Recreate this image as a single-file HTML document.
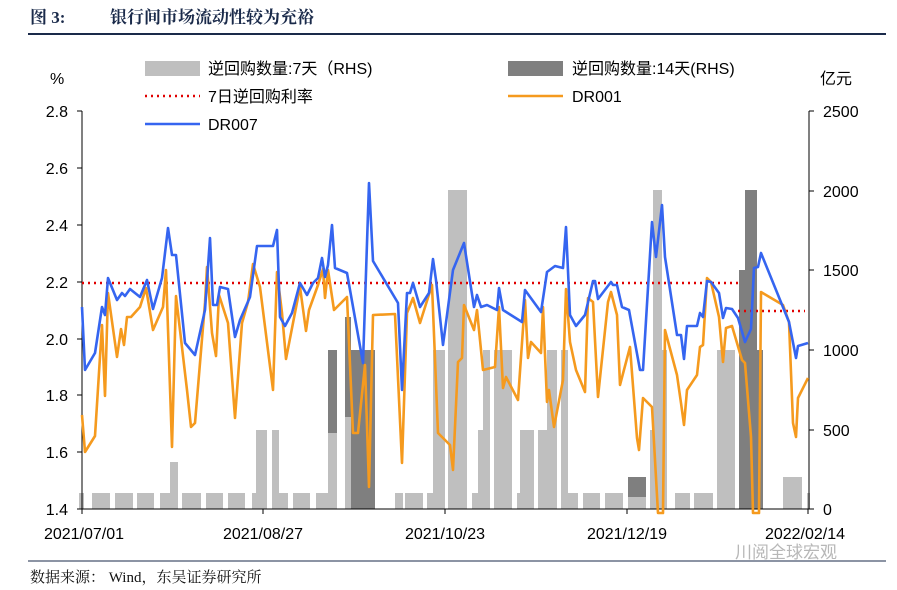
<!DOCTYPE html>
<html><head><meta charset="utf-8"><style>
body{margin:0;background:#fff;width:897px;height:590px;overflow:hidden}
svg{display:block}
text{font-family:"Liberation Sans","Noto Sans CJK SC",sans-serif}
.s{font-family:"Liberation Serif","Noto Serif CJK SC",serif}
</style></head><body>
<svg width="897" height="590" viewBox="0 0 897 590" xmlns="http://www.w3.org/2000/svg">
<text x="30" y="23" class="s" font-size="17" font-weight="bold" fill="#1a2a4a">图 3:</text>
<text x="110" y="23" class="s" font-size="17" font-weight="bold" fill="#1a2a4a">银行间市场流动性较为充裕</text>
<line x1="28" y1="34" x2="886" y2="34" stroke="#1a2a4a" stroke-width="2"/>
<line x1="28" y1="561" x2="886" y2="561" stroke="#1a2a4a" stroke-width="1"/>
<text x="30" y="582" class="s" font-size="15" fill="#111">数据来源： Wind，东吴证券研究所</text>

<g fill="#bfbfbf">
<rect x="79" y="493" width="5" height="16"/><rect x="92" y="493" width="18" height="16"/><rect x="115" y="493" width="18" height="16"/>
<rect x="137" y="493" width="17" height="16"/><rect x="160" y="493" width="10" height="16"/><rect x="170" y="462" width="8" height="47"/>
<rect x="182" y="493" width="19" height="16"/><rect x="206" y="493" width="17" height="16"/><rect x="228" y="493" width="17" height="16"/>
<rect x="252" y="493" width="5" height="16"/><rect x="256" y="430" width="11" height="79"/><rect x="272" y="430" width="7" height="79"/>
<rect x="279" y="493" width="9" height="16"/><rect x="293" y="493" width="17" height="16"/><rect x="316" y="493" width="12" height="16"/>
<rect x="328" y="433" width="9" height="76"/><rect x="345" y="417" width="6" height="92"/>
<rect x="395" y="493" width="8" height="16"/><rect x="405" y="493" width="18" height="16"/><rect x="427" y="493" width="6" height="16"/>
<rect x="433" y="350" width="12" height="159"/><rect x="448" y="190" width="19" height="319"/><rect x="472" y="493" width="6" height="16"/>
<rect x="478" y="430" width="5" height="79"/><rect x="483" y="350" width="7" height="159"/><rect x="494" y="350" width="18" height="159"/>
<rect x="517" y="493" width="3" height="16"/><rect x="520" y="430" width="14" height="79"/><rect x="538" y="430" width="9" height="79"/>
<rect x="547" y="350" width="10" height="159"/><rect x="561" y="350" width="7" height="159"/><rect x="568" y="493" width="10" height="16"/>
<rect x="583" y="493" width="17" height="16"/><rect x="605" y="493" width="18" height="16"/><rect x="628" y="497" width="18" height="12"/>
<rect x="650" y="430" width="3" height="79"/><rect x="653" y="190" width="9" height="319"/><rect x="662" y="350" width="5" height="159"/>
<rect x="675" y="493" width="15" height="16"/><rect x="694" y="493" width="19" height="16"/><rect x="717" y="350" width="18" height="159"/>
<rect x="783" y="477" width="19" height="32"/><rect x="807" y="493" width="3" height="16"/>
</g>
<g fill="#7f7f7f">
<rect x="328" y="350" width="9" height="83"/><rect x="345" y="317" width="6" height="100"/><rect x="351" y="350" width="6" height="159"/>
<rect x="357" y="350" width="18" height="159"/><rect x="628" y="477" width="18" height="20"/>
<rect x="739" y="270" width="6" height="239"/><rect x="745" y="190" width="12" height="319"/><rect x="757" y="350" width="6" height="159"/>
</g>

<g stroke="#000" stroke-width="1" fill="none">
<line x1="82" y1="111" x2="82" y2="509"/>
<line x1="809" y1="111" x2="809" y2="509"/>
<line x1="82" y1="509" x2="809" y2="509"/>
<path d="M77 111H82M77 168H82M77 225H82M77 282H82M77 339H82M77 395H82M77 452H82M77 509H82"/>
<path d="M809 111H814M809 191H814M809 270H814M809 350H814M809 430H814M809 509H814"/>
<path d="M82 509V514M263 509V514M445 509V514M627 509V514M808 509V514"/>
</g>
<g font-size="16" fill="#000" text-anchor="end">
<text x="68" y="117">2.8</text><text x="68" y="174">2.6</text><text x="68" y="231">2.4</text><text x="68" y="288">2.2</text>
<text x="68" y="345">2.0</text><text x="68" y="401">1.8</text><text x="68" y="458">1.6</text><text x="68" y="515">1.4</text>
</g>
<g font-size="16" fill="#000">
<text x="823" y="117">2500</text><text x="823" y="197">2000</text><text x="823" y="276">1500</text>
<text x="823" y="356">1000</text><text x="823" y="436">500</text><text x="823" y="515">0</text>
<text x="50" y="84">%</text><text x="820" y="84">亿元</text>
</g>
<g font-size="16" fill="#000" text-anchor="middle">
<text x="84" y="539">2021/07/01</text><text x="263" y="539">2021/08/27</text><text x="445" y="539">2021/10/23</text>
<text x="627" y="539">2021/12/19</text><text x="805" y="539">2022/02/14</text>
</g>

<path d="M82 283H738M738 311H805" stroke="#e00000" stroke-width="2.5" stroke-dasharray="2 4" fill="none"/>

<polyline fill="none" stroke="#f59a1e" stroke-width="2.6" stroke-linejoin="round" points="82,415 85,452 95,436 102,325 105,396 108,293 117,357 121,329 124,345 127,317 131,317 140,307 146,288 153,330 163,307 166,270 172,447 176,296 185,373 187,390 191,427 195,423 205,303 207,267 212,333 216,356 219,295 228,323 235,418 242,323 248,302 253,264 260,287 273,390 277,272 282,313 286,359 300,287 306,331 309,310 318,285 323,269 325,298 328,270 334,310 347,297 353,433 358,433 365,365 369,487 373,315 395,314 402,463 407,313 413,298 420,323 432,285 438,433 450,445 453,470 458,362 462,358 464,305 474,330 477,310 483,370 495,367 499,307 503,388 506,377 518,400 525,300 528,358 531,342 541,353 543,307 547,402 549,390 554,427 563,380 566,289 570,342 576,370 585,392 588,298 593,302 598,397 608,302 611,292 617,315 620,385 630,347 637,438 639,450 643,398 652,407 658,513 663,513 665,330 677,375 681,403 684,425 687,390 697,375 700,347 703,345 707,278 711,282 719,317 723,362 726,328 732,326 742,360 745,363 751,437 753,513 759,513 761,292 783,305 789,322 793,423 796,437 798,398 808,378"/>
<polyline fill="none" stroke="#3565f0" stroke-width="2.6" stroke-linejoin="round" points="82,307 85,370 95,353 102,307 105,315 108,278 117,300 122,293 125,296 130,289 140,297 147,280 153,309 162,278 168,228 172,255 176,255 185,343 195,355 205,310 210,238 213,305 217,305 220,287 228,289 235,337 240,320 250,297 257,246 273,246 277,230 280,317 285,326 292,313 300,283 307,295 313,283 318,278 322,258 325,277 328,265 332,225 335,268 347,273 363,363 369,183 373,261 398,303 402,390 407,293 410,293 413,283 420,307 429,293 433,259 436,280 443,345 453,270 464,243 474,307 477,295 481,307 487,305 497,310 499,288 503,310 522,322 525,290 541,312 547,272 555,266 563,268 566,227 570,315 576,326 585,315 593,281 595,281 598,299 611,282 613,285 617,285 622,307 629,310 640,370 643,370 652,222 656,257 662,205 665,257 677,335 681,335 684,359 687,326 697,326 700,313 703,317 707,281 711,282 719,293 723,318 726,308 732,309 738,318 745,342 751,329 754,268 758,267 761,253 789,322 796,358 798,346 808,343"/>

<rect x="145" y="61" width="55" height="15" fill="#bfbfbf"/>
<text x="208" y="74" font-size="16">逆回购数量:7天（RHS)</text>
<rect x="508" y="61" width="55" height="15" fill="#7f7f7f"/>
<text x="572" y="74" font-size="16">逆回购数量:14天(RHS)</text>
<line x1="145" y1="96" x2="200" y2="96" stroke="#e00000" stroke-width="2.5" stroke-dasharray="2 4"/>
<text x="208" y="102" font-size="16">7日逆回购利率</text>
<line x1="508" y1="96" x2="563" y2="96" stroke="#f59a1e" stroke-width="2.5"/>
<text x="572" y="102" font-size="16">DR001</text>
<line x1="145" y1="124" x2="200" y2="124" stroke="#3565f0" stroke-width="2.5"/>
<text x="208" y="130" font-size="16">DR007</text>

<text x="735" y="558" font-size="17" fill="#999" opacity="0.7">川阅全球宏观</text>
</svg>
</body></html>
